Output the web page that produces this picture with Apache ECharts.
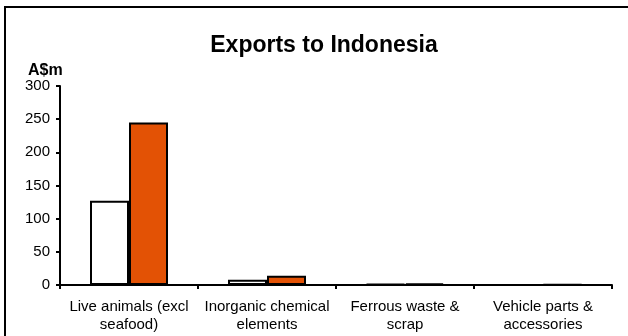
<!DOCTYPE html>
<html><head><meta charset="utf-8">
<script src="https://cdn.jsdelivr.net/npm/echarts@6/dist/echarts.min.js"></script>
<style>html,body{margin:0;padding:0;background:#fff}#c{width:628px;height:336px}</style>
</head><body><div id="c"></div>
<script>
const categories = ['Live animals (excl\nseafood)', 'Inorganic chemical\nelements', 'Ferrous waste &\nscrap', 'Vehicle parts &\naccessories'];
const seriesA = [127, 8, 1.5, 0];
const seriesB = [245, 14, 2.5, 1];
const yTicks = [0, 50, 100, 150, 200, 250, 300];

const chart = echarts.init(document.getElementById('c'), null, {renderer: 'canvas'});
const font = 'Liberation Sans, Arial, sans-serif';
chart.setOption({
  animation: false,
  title: [
    {text: 'Exports to Indonesia', left: 319, textAlign: 'center', top: 29,
     textStyle: {fontFamily: font, fontSize: 23, fontWeight: 'bold', color: '#000'}},
    {text: 'A$m', left: 23, top: 58,
     textStyle: {fontFamily: font, fontSize: 16, fontWeight: 'bold', color: '#000'}}
  ],
  graphic: [{type: 'rect', shape: {x: 5, y: 7, width: 700, height: 400},
    style: {fill: 'none', stroke: '#000', lineWidth: 2}, silent: true}],
  grid: {left: 60, right: 16, top: 86, bottom: 51, containLabel: false},
  xAxis: {type: 'category', data: categories,
    axisLine: {lineStyle: {color: '#000', width: 2}},
    axisTick: {show: true, length: 4, lineStyle: {color: '#000', width: 2}},
    axisLabel: {color: '#000', fontFamily: font, fontSize: 15, lineHeight: 18, margin: 13, interval: 0}},
  yAxis: {type: 'value', min: 0, max: 300, interval: 50,
    axisLine: {show: true, lineStyle: {color: '#000', width: 2}},
    axisTick: {show: true, length: 4, lineStyle: {color: '#000', width: 2}},
    splitLine: {show: false},
    axisLabel: {color: '#000', fontFamily: font, fontSize: 15, margin: 10,
      formatter: v => yTicks.includes(v) ? String(v) : ''}},
  series: [
    {type: 'bar', data: seriesA, barWidth: 39, barGap: '0%',
     itemStyle: {color: '#fff', borderColor: '#000', borderWidth: 2}},
    {type: 'bar', data: seriesB, barWidth: 39, barGap: '0%',
     itemStyle: {color: '#E35205', borderColor: '#000', borderWidth: 2}}
  ]
});
</script></body></html>
